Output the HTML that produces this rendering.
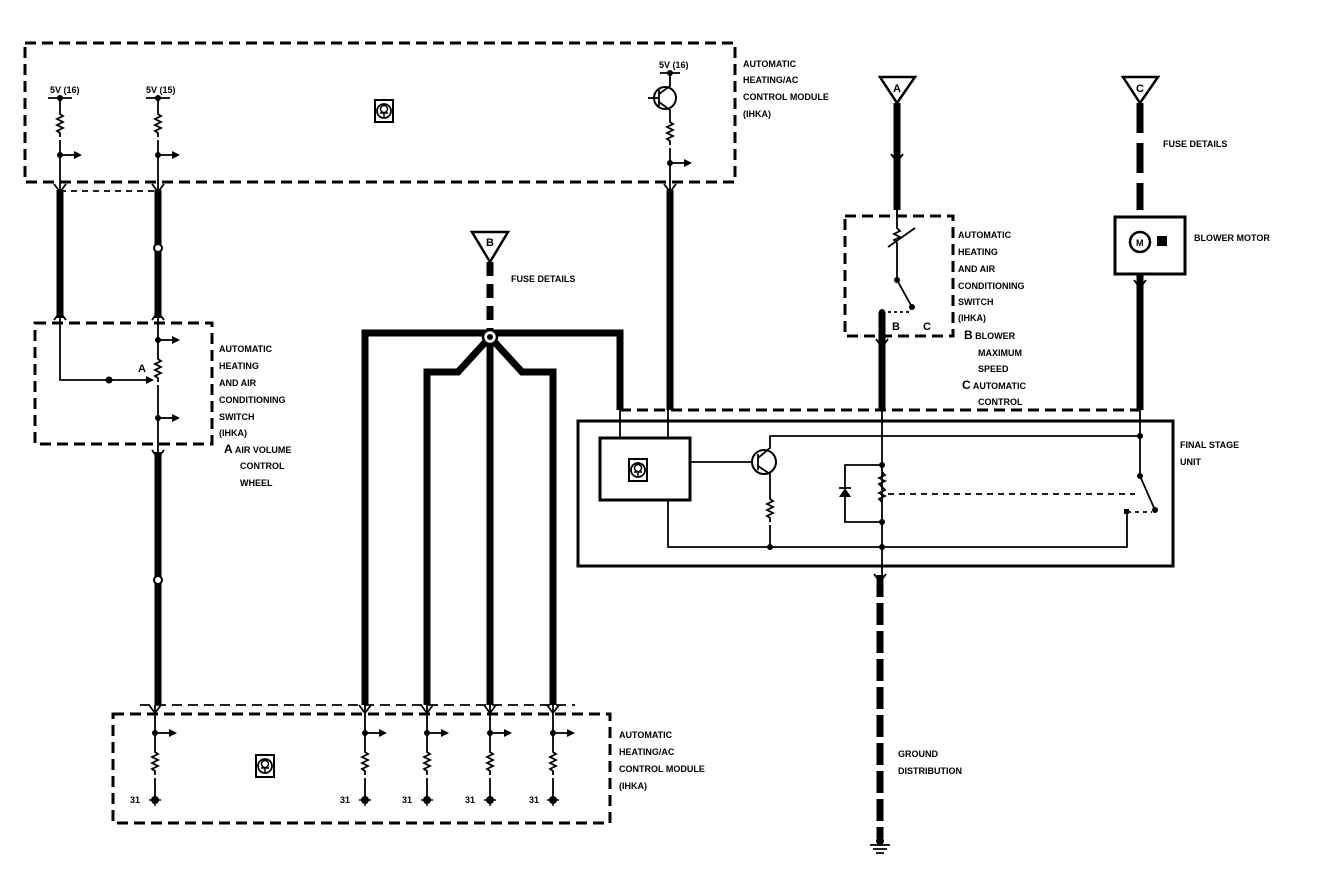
<!DOCTYPE html>
<html><head><meta charset="utf-8">
<style>
html,body{margin:0;padding:0;background:#fff;}
svg{display:block;}
text{font-family:"Liberation Sans",sans-serif;font-weight:bold;font-size:9px;fill:#000;}
.d{fill:none;stroke:#000;stroke-width:3;stroke-dasharray:11,6;}
.w{fill:none;stroke:#000;stroke-width:7;}
.t{fill:none;stroke:#000;stroke-width:1.8;}
.s{fill:none;stroke:#000;stroke-width:3;}
</style></head><body>
<svg width="1328" height="886" viewBox="0 0 1328 886" xmlns="http://www.w3.org/2000/svg">
<defs>
<path id="res" d="M0,0 v4 l3,2 l-6,3 l6,3 l-6,3 l6,3 l-6,3 l3,2 v4" class="t"/>
<g id="arr"><line x1="0" y1="0" x2="16" y2="0" class="t"/><polygon points="14,-4 22,0 14,4"/><circle r="3"/></g>
<g id="ecu"><rect x="-9" y="-10" width="18" height="22" fill="none" stroke="#000" stroke-width="2"/><circle cx="0" cy="1" r="7" fill="none" stroke="#000" stroke-width="1.8"/><circle cx="0" cy="-1" r="3.5" fill="none" stroke="#000" stroke-width="1.5"/><path d="M-4,3 h8 M0,3 v5" stroke="#000" stroke-width="1.5"/></g>
<g id="gnd"><circle r="4"/><line x1="-6" y1="0" x2="6" y2="0" stroke="#000" stroke-width="1.5"/><line x1="0" y1="0" x2="0" y2="6" stroke="#000" stroke-width="1.5"/></g>
<g id="fork"><path d="M-6,-6 L0,2 L6,-6" class="t"/></g>
</defs>

<!-- Top module -->
<rect x="25" y="43" width="710" height="139" class="d"/>
<text x="50" y="93">5V (16)</text>
<text x="146" y="93">5V (15)</text>
<line x1="48" y1="98" x2="72" y2="98" class="t"/><circle cx="60" cy="98" r="3"/>
<line x1="146" y1="98" x2="170" y2="98" class="t"/><circle cx="158" cy="98" r="3"/>
<line x1="60" y1="98" x2="60" y2="110" class="t"/><use href="#res" x="60" y="110"/><line x1="60" y1="140" x2="60" y2="190" class="t"/>
<line x1="158" y1="98" x2="158" y2="110" class="t"/><use href="#res" x="158" y="110"/><line x1="158" y1="140" x2="158" y2="190" class="t"/>
<use href="#arr" x="60" y="155"/><use href="#arr" x="158" y="155"/>
<use href="#ecu" x="384" y="110"/>
<text x="659" y="68">5V (16)</text>
<line x1="660" y1="73" x2="680" y2="73" class="t"/><circle cx="670" cy="73" r="3"/>
<circle cx="665" cy="98" r="11" fill="none" stroke="#000" stroke-width="2"/>
<line x1="648" y1="98" x2="659" y2="98" class="t"/><line x1="659" y1="90" x2="659" y2="106" class="t"/>
<path d="M659,94 L670,86 V73 M659,102 L670,110 V118" class="t"/>
<use href="#res" x="670" y="118"/><line x1="670" y1="148" x2="670" y2="190" class="t"/>
<use href="#arr" x="670" y="163"/>
<text x="743" y="67">AUTOMATIC</text><text x="743" y="83">HEATING/AC</text><text x="743" y="100">CONTROL MODULE</text><text x="743" y="117">(IHKA)</text>

<!-- left wires -->
<use href="#fork" x="60" y="190"/><use href="#fork" x="158" y="190"/>
<line x1="60" y1="190" x2="60" y2="318" class="w"/>
<line x1="158" y1="190" x2="158" y2="318" class="w"/>
<circle cx="158" cy="248" r="4" fill="#fff" stroke="#000" stroke-width="2"/>
<path d="M60,191 h98" class="t" stroke-dasharray="6,5"/>
<use href="#fork" x="60" y="322" transform="rotate(180 60 318)"/>
<use href="#fork" x="158" y="322" transform="rotate(180 158 318)"/>
<!-- left switch -->
<rect x="35" y="323" width="177" height="121" class="d"/>
<path d="M60,318 V380 H150" class="t"/><circle cx="109" cy="380" r="3.5"/>
<polygon points="146,376 154,380 146,384"/>
<text x="138" y="372" style="font-size:11px">A</text>
<line x1="158" y1="318" x2="158" y2="355" class="t"/><use href="#res" x="158" y="355"/><line x1="158" y1="385" x2="158" y2="452" class="t"/>
<use href="#arr" x="158" y="340"/><use href="#arr" x="158" y="418"/>
<text x="219" y="352">AUTOMATIC</text><text x="219" y="369">HEATING</text><text x="219" y="386">AND AIR</text><text x="219" y="403">CONDITIONING</text><text x="219" y="420">SWITCH</text><text x="219" y="436">(IHKA)</text>
<text x="224" y="453"><tspan style="font-size:12px">A</tspan> AIR VOLUME</text><text x="240" y="469">CONTROL</text><text x="240" y="486">WHEEL</text>
<use href="#fork" x="158" y="456"/>
<line x1="158" y1="452" x2="158" y2="705" class="w"/>
<circle cx="158" cy="580" r="4" fill="#fff" stroke="#000" stroke-width="2"/>

<!-- Fuse B -->
<polygon points="472,232 508,232 490,262" fill="none" stroke="#000" stroke-width="2.5"/>
<text x="486" y="246" style="font-size:11px">B</text>
<line x1="490" y1="262" x2="490" y2="330" class="w" stroke-dasharray="14,8"/>
<text x="511" y="282">FUSE DETAILS</text>
<path d="M365,705 V333 H620 V410" class="w"/>
<path d="M427,705 V372 H458 L490,337 L522,372 H553 V705" class="w"/>
<line x1="490" y1="337" x2="490" y2="705" class="w"/>
<circle cx="490" cy="337" r="7" fill="#fff" stroke="#000" stroke-width="2.5"/><circle cx="490" cy="337" r="3"/>

<!-- Wire 668 -->
<use href="#fork" x="670" y="190"/>
<line x1="670" y1="190" x2="670" y2="410" class="w"/>

<!-- Fuse A -->
<polygon points="880,77 915,77 897,103" fill="none" stroke="#000" stroke-width="2.5"/>
<text x="893" y="92" style="font-size:11px">A</text>
<line x1="897" y1="103" x2="897" y2="210" class="w"/>
<use href="#fork" x="897" y="160"/>
<rect x="845" y="216" width="108" height="120" class="d"/>
<path d="M897,210 V228 l3,3 l-6,3 l6,3 l-6,3 l3,3 V280 L912,307" class="t"/>
<line x1="888" y1="247" x2="915" y2="228" class="t"/><circle cx="897" cy="280" r="3"/><circle cx="912" cy="307" r="3"/>
<path d="M882,312 h30" class="t" stroke-dasharray="3,3"/><circle cx="882" cy="312" r="3"/>
<text x="892" y="330" style="font-size:11px">B</text><text x="923" y="330" style="font-size:11px">C</text>
<line x1="882" y1="312" x2="882" y2="410" class="w"/>
<use href="#fork" x="882" y="345"/>
<text x="958" y="238">AUTOMATIC</text><text x="958" y="255">HEATING</text><text x="958" y="272">AND AIR</text><text x="958" y="289">CONDITIONING</text><text x="958" y="305">SWITCH</text><text x="958" y="321">(IHKA)</text>
<text x="964" y="339"><tspan style="font-size:12px">B</tspan> BLOWER</text><text x="978" y="356">MAXIMUM</text><text x="978" y="372">SPEED</text>
<text x="962" y="389"><tspan style="font-size:12px">C</tspan> AUTOMATIC</text><text x="978" y="405">CONTROL</text>

<!-- Fuse C -->
<polygon points="1123,77 1158,77 1140,103" fill="none" stroke="#000" stroke-width="2.5"/>
<text x="1136" y="92" style="font-size:11px">C</text>
<line x1="1140" y1="103" x2="1140" y2="210" class="w" stroke-dasharray="30,10"/>
<text x="1163" y="147">FUSE DETAILS</text>
<rect x="1115" y="217" width="70" height="57" class="s"/>
<circle cx="1140" cy="242" r="10" fill="none" stroke="#000" stroke-width="2.5"/>
<text x="1136" y="246">M</text><rect x="1157" y="236" width="10" height="10"/>
<text x="1194" y="241">BLOWER MOTOR</text>
<line x1="1140" y1="274" x2="1140" y2="410" class="w"/>
<use href="#fork" x="1140" y="286"/>

<!-- Final stage unit -->
<line x1="620" y1="410" x2="1145" y2="410" class="d"/>
<rect x="578" y="421" width="595" height="145" class="s"/>
<path d="M620,410 V438 M668,410 V438" class="t"/>
<rect x="600" y="438" width="90" height="62" class="s"/>
<use href="#ecu" x="638" y="469"/>
<line x1="690" y1="462" x2="752" y2="462" class="t"/>
<circle cx="764" cy="462" r="12" fill="none" stroke="#000" stroke-width="2"/>
<line x1="758" y1="454" x2="758" y2="470" class="t"/>
<path d="M758,458 L770,448 V436 H1140 M758,466 L770,474 V495" class="t"/>
<use href="#res" x="770" y="495"/>
<path d="M770,525 V547 M668,500 V547 H1127 V512" class="t"/>
<circle cx="770" cy="547" r="3"/>
<line x1="882" y1="410" x2="882" y2="575" class="t"/>
<circle cx="882" cy="465" r="3"/><circle cx="882" cy="522" r="3"/><circle cx="882" cy="547" r="3"/>
<path d="M882,465 H845 V522 H882" class="t"/>
<polygon points="839,497 851,497 845,488"/><line x1="839" y1="488" x2="851" y2="488" class="t"/>
<path d="M882,472 l3,3 l-6,3 l6,3 l-6,3 l3,3 l3,3 l-6,3 l6,3 l-6,3 l3,3" class="t"/>
<line x1="888" y1="494" x2="1135" y2="494" class="t" stroke-dasharray="6,5"/>
<path d="M1140,410 V476 L1155,510" class="t"/><circle cx="1140" cy="436" r="3"/><circle cx="1140" cy="476" r="3"/><circle cx="1155" cy="510" r="3"/>
<path d="M1127,512 h25" class="t" stroke-dasharray="4,4"/><rect x="1124" y="509" width="5" height="5"/>
<text x="1180" y="448">FINAL STAGE</text><text x="1180" y="465">UNIT</text>
<!-- ground -->
<line x1="880" y1="575" x2="880" y2="838" class="w" stroke-dasharray="22,6"/>
<use href="#fork" x="880" y="580"/>
<circle cx="880" cy="841" r="4"/><path d="M870,845 h20 M873,849 h14 M876,853 h8" class="t"/>
<text x="898" y="757">GROUND</text><text x="898" y="774">DISTRIBUTION</text>

<!-- Bottom module -->
<line x1="140" y1="705" x2="575" y2="705" class="t" stroke-dasharray="10,6"/>
<rect x="113" y="714" width="497" height="109" class="d"/>
<g>
<use href="#fork" x="155" y="711"/><use href="#fork" x="365" y="711"/><use href="#fork" x="427" y="711"/><use href="#fork" x="490" y="711"/><use href="#fork" x="553" y="711"/>
</g>
<g id="b1">
<line x1="155" y1="705" x2="155" y2="748" class="t"/><use href="#res" x="155" y="748"/><line x1="155" y1="778" x2="155" y2="800" class="t"/>
<use href="#arr" x="155" y="733"/><use href="#gnd" x="155" y="800"/>
</g>
<use href="#b1" x="210"/><use href="#b1" x="272"/><use href="#b1" x="335"/><use href="#b1" x="398"/>
<text x="130" y="803">31</text><text x="340" y="803">31</text><text x="402" y="803">31</text><text x="465" y="803">31</text><text x="529" y="803">31</text>
<use href="#ecu" x="265" y="765"/>
<text x="619" y="738">AUTOMATIC</text><text x="619" y="755">HEATING/AC</text><text x="619" y="772">CONTROL MODULE</text><text x="619" y="789">(IHKA)</text>
</svg>
</body></html>
